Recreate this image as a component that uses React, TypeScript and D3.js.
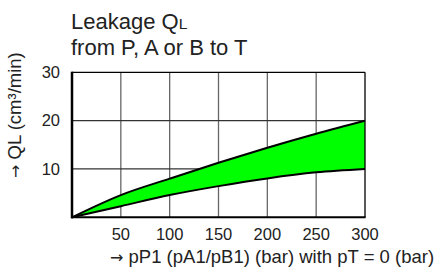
import React from "react";
import * as d3 from "d3";

// values
const pressure = [0, 50, 100, 150, 200, 250, 300];
const leakMax = [0, 4.6, 8.0, 11.3, 14.4, 17.3, 20];
const leakMin = [0, 2.3, 4.6, 6.45, 8.05, 9.3, 10];
const xTicks = [50, 100, 150, 200, 250, 300];
const yTicks = [10, 20, 30];

const font = "'Liberation Sans', Arial, Helvetica, sans-serif";
const arrowFont = "'DejaVu Sans', sans-serif";

const App = () => {
  const width = 443;
  const height = 267;
  const x = d3.scaleLinear().domain([0, 300]).range([72, 365]);
  const y = d3.scaleLinear().domain([0, 30]).range([217.3, 72.3]);

  const rows = pressure.map((p, i) => ({ p, hi: leakMax[i], lo: leakMin[i] }));

  const area = d3
    .area<any>()
    .x((d) => x(d.p))
    .y0((d) => y(d.lo))
    .y1((d) => y(d.hi))
    .curve(d3.curveMonotoneX);
  const lineHi = d3
    .line<any>()
    .x((d) => x(d.p))
    .y((d) => y(d.hi))
    .curve(d3.curveMonotoneX);
  const lineLo = d3
    .line<any>()
    .x((d) => x(d.p))
    .y((d) => y(d.lo))
    .curve(d3.curveMonotoneX);

  const ink = "#222";

  return (
    <svg
      width={width}
      height={height}
      style={{ position: "absolute", left: 0, top: 0, background: "#fff" }}
      fontFamily={font}
    >
      <text x={71} y={29} fontSize={22} fill={ink}>
        Leakage Q<tspan fontSize={15.5}>L</tspan>
      </text>
      <text x={71} y={55} fontSize={22} fill={ink}>
        from P, A or B to T
      </text>

      {/* grid */}
      {xTicks.slice(0, -1).map((t) => (
        <line key={"vx" + t} x1={x(t)} x2={x(t)} y1={y(30)} y2={y(0)} stroke="#666" strokeWidth={1.3} />
      ))}
      {yTicks.slice(0, -1).map((t) => (
        <line key={"hy" + t} x1={x(0)} x2={x(300)} y1={y(t)} y2={y(t)} stroke="#333" strokeWidth={1.3} />
      ))}

      <path d={area(rows) || ""} fill="#00ff00" />
      <path d={lineHi(rows) || ""} fill="none" stroke="#000" strokeWidth={2} />
      <path d={lineLo(rows) || ""} fill="none" stroke="#000" strokeWidth={2} />

      {/* frame */}
      <line x1={x(0)} x2={x(300)} y1={y(30)} y2={y(30)} stroke="#000" strokeWidth={1.3} />
      <line x1={x(300)} x2={x(300)} y1={y(30)} y2={y(0)} stroke="#000" strokeWidth={1.3} />
      <line x1={x(0)} x2={x(0)} y1={y(30) - 0.6} y2={y(0) + 1} stroke="#000" strokeWidth={2.5} />
      <line x1={x(0) - 1} x2={x(300) + 0.6} y1={y(0)} y2={y(0)} stroke="#000" strokeWidth={2} />

      {xTicks.map((t) => (
        <text key={"xt" + t} x={x(t)} y={240} fontSize={16.5} textAnchor="middle" fill={ink}>
          {t}
        </text>
      ))}
      {yTicks.map((t) => (
        <text key={"yt" + t} x={60} y={y(t) + 5.8} fontSize={16.5} textAnchor="end" fill={ink}>
          {t}
        </text>
      ))}

      <text x={110} y={263} fontSize={18.5} fill={ink}>
        <tspan fontFamily={arrowFont} fontSize={16}>→</tspan> pP1 (pA1/pB1) (bar) with pT = 0 (bar)
      </text>
      <text transform="translate(21,178) rotate(-90)" fontSize={18.5} fill={ink}>
        <tspan fontFamily={arrowFont} fontSize={16}>→</tspan> QL (cm³/min)
      </text>
    </svg>
  );
};

export default App;
